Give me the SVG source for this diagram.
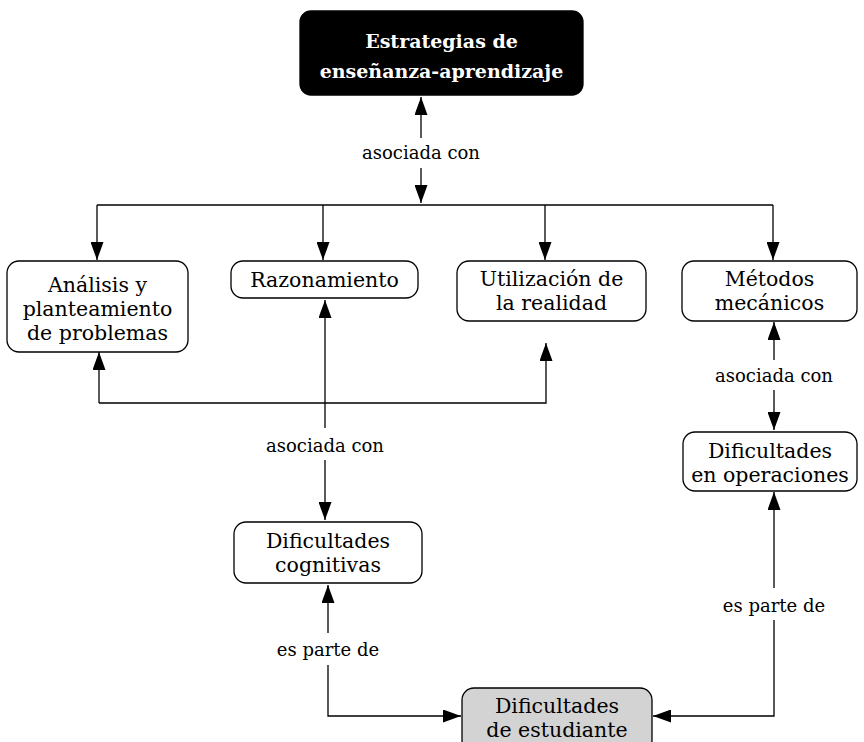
<svg xmlns="http://www.w3.org/2000/svg" width="864" height="742" viewBox="0 0 864 742">
<defs>
<marker id="arr" viewBox="0 0 18 13" refX="18" refY="6.5" markerWidth="18" markerHeight="13" markerUnits="userSpaceOnUse" orient="auto">
<path d="M0,0 L18,6.5 L0,13 z" fill="#000"/>
</marker>
<style>
.node rect{fill:#fff;stroke:#000;stroke-width:1.3}
.node text{font-family:"DejaVu Serif",serif;font-size:20.5px;text-anchor:middle;fill:#000}
.conn path{fill:none;stroke:#000;stroke-width:1.3}
.conn .a{marker-end:url(#arr)}
.lbl rect{fill:#fff}
.lbl text{font-family:"DejaVu Serif",serif;font-size:18px;text-anchor:middle;fill:#000}
</style>
</defs>
<rect width="864" height="742" fill="#fff"/>
<g id="connectors" class="conn">
<path class="a" d="M421,150 L421,97"/>
<path class="a" d="M421,150 L421,203"/>
<path d="M97,205 L773,205"/>
<path class="a" d="M97,205 L97,260"/>
<path class="a" d="M323,205 L323,260"/>
<path class="a" d="M545,205 L545,260"/>
<path class="a" d="M773,205 L773,260"/>
<path class="a" d="M99,403 L99,352"/>
<path class="a" d="M99,403 L546,403 L546,343"/>
<path class="a" d="M325,445 L325,300"/>
<path class="a" d="M325,445 L325,520"/>
<path class="a" d="M328,650 L328,585"/>
<path class="a" d="M328,650 L328,716 L461,716"/>
<path class="a" d="M774,600 L774,492"/>
<path class="a" d="M774,600 L774,716 L653,716"/>
<path class="a" d="M774,375 L774,322"/>
<path class="a" d="M774,375 L774,430"/>
</g>
<g id="labels" class="lbl">
<g id="lbl1"><rect x="358" y="138" width="126" height="30"/><text x="421" y="159">asociada con</text></g>
<g id="lbl2"><rect x="262" y="428" width="126" height="32"/><text x="325" y="452">asociada con</text></g>
<g id="lbl3"><rect x="273" y="633" width="110" height="32"/><text x="328" y="656">es parte de</text></g>
<g id="lbl4"><rect x="719" y="588" width="110" height="32"/><text x="774" y="612">es parte de</text></g>
<g id="lbl5"><rect x="711" y="360" width="126" height="30"/><text x="774" y="382">asociada con</text></g>
</g>
<g id="n-top" class="node">
<rect x="300" y="11" width="283" height="84" rx="11" style="fill:#000"/>
<text x="441.5" y="48" style="fill:#fff;font-weight:bold;font-size:19px">Estrategias de</text>
<text x="441.5" y="78" style="fill:#fff;font-weight:bold;font-size:19px">enseñanza-aprendizaje</text>
</g>
<g id="n-analisis" class="node">
<rect x="7" y="261" width="181" height="91" rx="12"/>
<text x="97.5" y="292">Análisis y</text>
<text x="97.5" y="316">planteamiento</text>
<text x="97.5" y="340">de problemas</text>
</g>
<g id="n-razonamiento" class="node">
<rect x="231" y="261" width="187" height="37" rx="12"/>
<text x="324.5" y="287">Razonamiento</text>
</g>
<g id="n-utilizacion" class="node">
<rect x="457" y="261" width="189" height="60" rx="12"/>
<text x="551.5" y="286">Utilización de</text>
<text x="551.5" y="310">la realidad</text>
</g>
<g id="n-metodos" class="node">
<rect x="682" y="261" width="175" height="60" rx="12"/>
<text x="769.5" y="286">Métodos</text>
<text x="769.5" y="310">mecánicos</text>
</g>
<g id="n-operaciones" class="node">
<rect x="683" y="432" width="174" height="59" rx="12"/>
<text x="770" y="458">Dificultades</text>
<text x="770" y="482">en operaciones</text>
</g>
<g id="n-cognitivas" class="node">
<rect x="234" y="522" width="188" height="61" rx="12"/>
<text x="328" y="548">Dificultades</text>
<text x="328" y="572">cognitivas</text>
</g>
<g id="n-estudiante" class="node">
<rect x="462" y="688" width="190" height="64" rx="12" style="fill:#d3d3d3"/>
<text x="557" y="713">Dificultades</text>
<text x="557" y="737">de estudiante</text>
</g>
</svg>
